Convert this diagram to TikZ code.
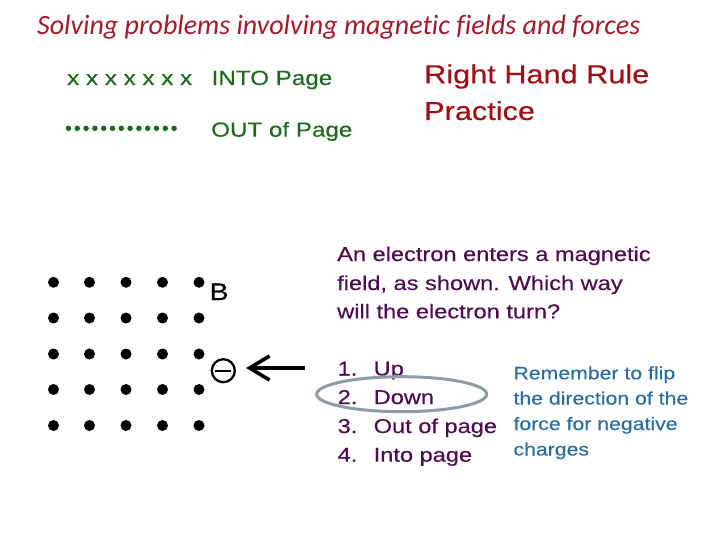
\documentclass[tikz,border=0pt]{standalone}
\usepackage{fontspec}
\usetikzlibrary{arrows.meta}
\setmainfont{Liberation Sans}
\newfontfamily\arw[FakeStretch=1.18,FakeBold=0.35]{Liberation Sans}
\newfontfamily\calf[Ligatures=NoCommon]{Carlito}
\definecolor{titlered}{HTML}{A31A2B}
\definecolor{fgreen}{HTML}{1B6B1B}
\definecolor{rhrred}{HTML}{A00F14}
\definecolor{fpurple}{HTML}{4E0B4E}
\definecolor{fblue}{HTML}{2A6E9E}
\definecolor{ellcol}{HTML}{8C9DA6}
\tikzset{
  txt/.style={inner sep=0pt, anchor=base west},
  greentxt/.style={txt, text=fgreen, font=\arw\fontsize{20.5}{24}\selectfont},
  rhr/.style={txt, text=rhrred, font=\arw\fontsize{26}{30}\selectfont},
  body/.style={txt, text=fpurple, font=\arw\fontsize{20}{24}\selectfont},
  note/.style={txt, text=fblue, font=\arw\fontsize{18}{22}\selectfont},
  fdot/.style={circle, fill=black, inner sep=0pt, minimum size=11pt},
}
\begin{document}
\begin{tikzpicture}[x=1pt,y=-1pt]
\useasboundingbox (0,0) rectangle (720,540);
% title
\node[txt, text=titlered, font=\calf\itshape\fontsize{28}{32}\selectfont] (title) at (37,35) {Solving problems involving magnetic fields and forces};
% legend
\node[greentxt] (xs) at (67,85) {x x x x x x x};
\node[greentxt] (into) at (211.5,85) {INTO Page};
\foreach \i in {0,...,12}{
  \node[circle, fill=fgreen, inner sep=0pt, minimum size=5.5pt] (gd\i) at (68.5+\i*8.8,128.3) {};
}
\node[greentxt] (out) at (211,136.7) {OUT of Page};
% RHR
\node[rhr] (rhr1) at (424,83.3) {Right Hand Rule};
\node[rhr] (rhr2) at (424,120) {Practice};
% dots grid
\foreach \c [count=\ci] in {53.5,89.5,126,162.5,199}{
  \foreach \r [count=\ri] in {282.3,318,354,389.5,425.5}{
    \node[fdot] (d\ci\ri) at (\c,\r) {};
  }
}
\node[txt, font=\arw\fontsize{24}{28}\selectfont] (B) at (209.5,300) {B};
% electron
\node[circle, draw=black, line width=2.3pt, minimum size=23pt, inner sep=0pt] (e) at (223.3,370.7) {};
\draw[line width=2.3pt] ([xshift=-8pt]e.center) -- ([xshift=8pt]e.center);
\coordinate (arrstart) at (305,368);
\coordinate (arrtip) at (246,368);
\draw[line width=3.6pt, -{Straight Barb[length=20pt,width=24pt]}] (arrstart) -- (arrtip);
% question
\node[body] (q1) at (337,261) {An electron enters a magnetic};
\node[body] (q2) at (337,290) {field, as shown. Which way};
\node[body] (q3) at (337,318.3) {will the electron turn?};
% answers
\node[body] (n1) at (337.5,375.5) {1.};
\node[body] (a1) at (373.5,375.5) {Up};
\node[body] (n2) at (337.5,404) {2.};
\node[body] (a2) at (373.5,404) {Down};
\node[body] (n3) at (337.5,433) {3.};
\node[body] (a3) at (373.5,433) {Out of page};
\node[body] (n4) at (337.5,461.7) {4.};
\node[body] (a4) at (373.5,461.7) {Into page};
\draw[ellcol, line width=3pt] (401.7,394.2) ellipse (85pt and 17.5pt);
% note
\node[note] (r1) at (513.3,379.3) {Remember to flip};
\node[note] (r2) at (513.3,404.5) {the direction of the};
\node[note] (r3) at (513.3,430) {force for negative};
\node[note] (r4) at (513.3,455.5) {charges};
\end{tikzpicture}
\end{document}
